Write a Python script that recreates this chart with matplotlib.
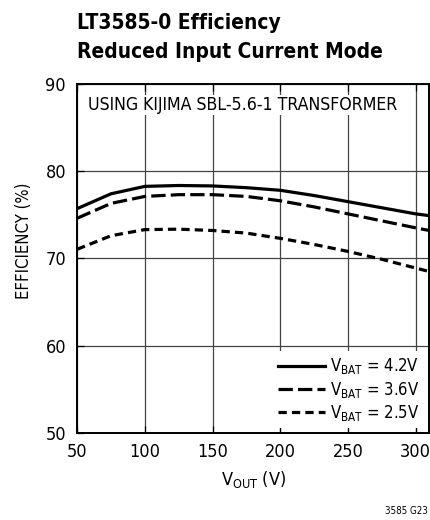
import numpy as np
import matplotlib
matplotlib.use("Agg")
import matplotlib.pyplot as plt

plt.rcParams['font.family'] = ['DejaVu Sans']
plt.rcParams['font.stretch'] = 'condensed'

# datos
vout = [50, 75, 100, 125, 150, 175, 200, 225, 250, 275, 300, 310]
eff_42 = [75.7, 77.4, 78.25, 78.35, 78.3, 78.1, 77.8, 77.2, 76.5, 75.8, 75.1, 74.9]
eff_36 = [74.6, 76.3, 77.1, 77.3, 77.3, 77.1, 76.6, 75.9, 75.1, 74.3, 73.5, 73.2]
eff_25 = [71.05, 72.6, 73.3, 73.35, 73.2, 72.9, 72.3, 71.6, 70.8, 69.9, 68.9, 68.5]

labels = ["V$_{\\mathregular{BAT}}$ = 4.2V",
          "V$_{\\mathregular{BAT}}$ = 3.6V",
          "V$_{\\mathregular{BAT}}$ = 2.5V"]

fig = plt.figure(figsize=(4.31, 5.2), dpi=100)
ax = fig.add_axes([0.179, 0.167, 0.817, 0.672])

lw = 2.3
ax.plot(vout, eff_42, color='black', lw=lw, label=labels[0])
ax.plot(vout, eff_36, color='black', lw=lw, dashes=(4.5, 1.6), label=labels[1])
ax.plot(vout, eff_25, color='black', lw=lw, dashes=(2.6, 1.6), label=labels[2])

ax.set_xlim(50, 310)
ax.set_ylim(50, 90)
ax.set_xticks([50, 100, 150, 200, 250, 300])
ax.set_yticks([50, 60, 70, 80, 90])
ax.grid(True, color='#444444', lw=0.9)
ax.tick_params(direction='in', length=5, labelsize=13, top=True, right=False, width=0.9)
ax.tick_params(axis='y', pad=8)
ax.tick_params(axis='x', pad=7)
for s in ax.spines.values():
    s.set_linewidth(1.4)

ax.set_ylabel("EFFICIENCY (%)", fontsize=12)
ax.yaxis.set_label_coords(-0.125, 0.55)
ax.set_xlabel("V$_{\\mathregular{OUT}}$ (V)", fontsize=13, labelpad=6)

ax.text(0.03, 0.965, "USING KIJIMA SBL-5.6-1 TRANSFORMER", transform=ax.transAxes,
        fontsize=12.7, va='top', ha='left',
        bbox=dict(facecolor='white', edgecolor='none', pad=1))

leg = ax.legend(loc='lower right', frameon=True, fontsize=12, handlelength=2.8,
                handletextpad=0.3, labelspacing=0.2, borderaxespad=0.3,
                borderpad=0.3)
leg.get_frame().set_edgecolor('none')
leg.get_frame().set_facecolor('white')
leg.get_frame().set_alpha(1)

fig.text(0.179, 0.944, "LT3585-0 Efficiency", fontsize=15, fontweight='bold', va='baseline')
fig.text(0.179, 0.888, "Reduced Input Current Mode", fontsize=15, fontweight='bold', va='baseline')
fig.text(0.993, 0.012, "3585 G23", fontsize=7, ha='right', va='baseline')

fig.savefig("out.png", dpi=100)
